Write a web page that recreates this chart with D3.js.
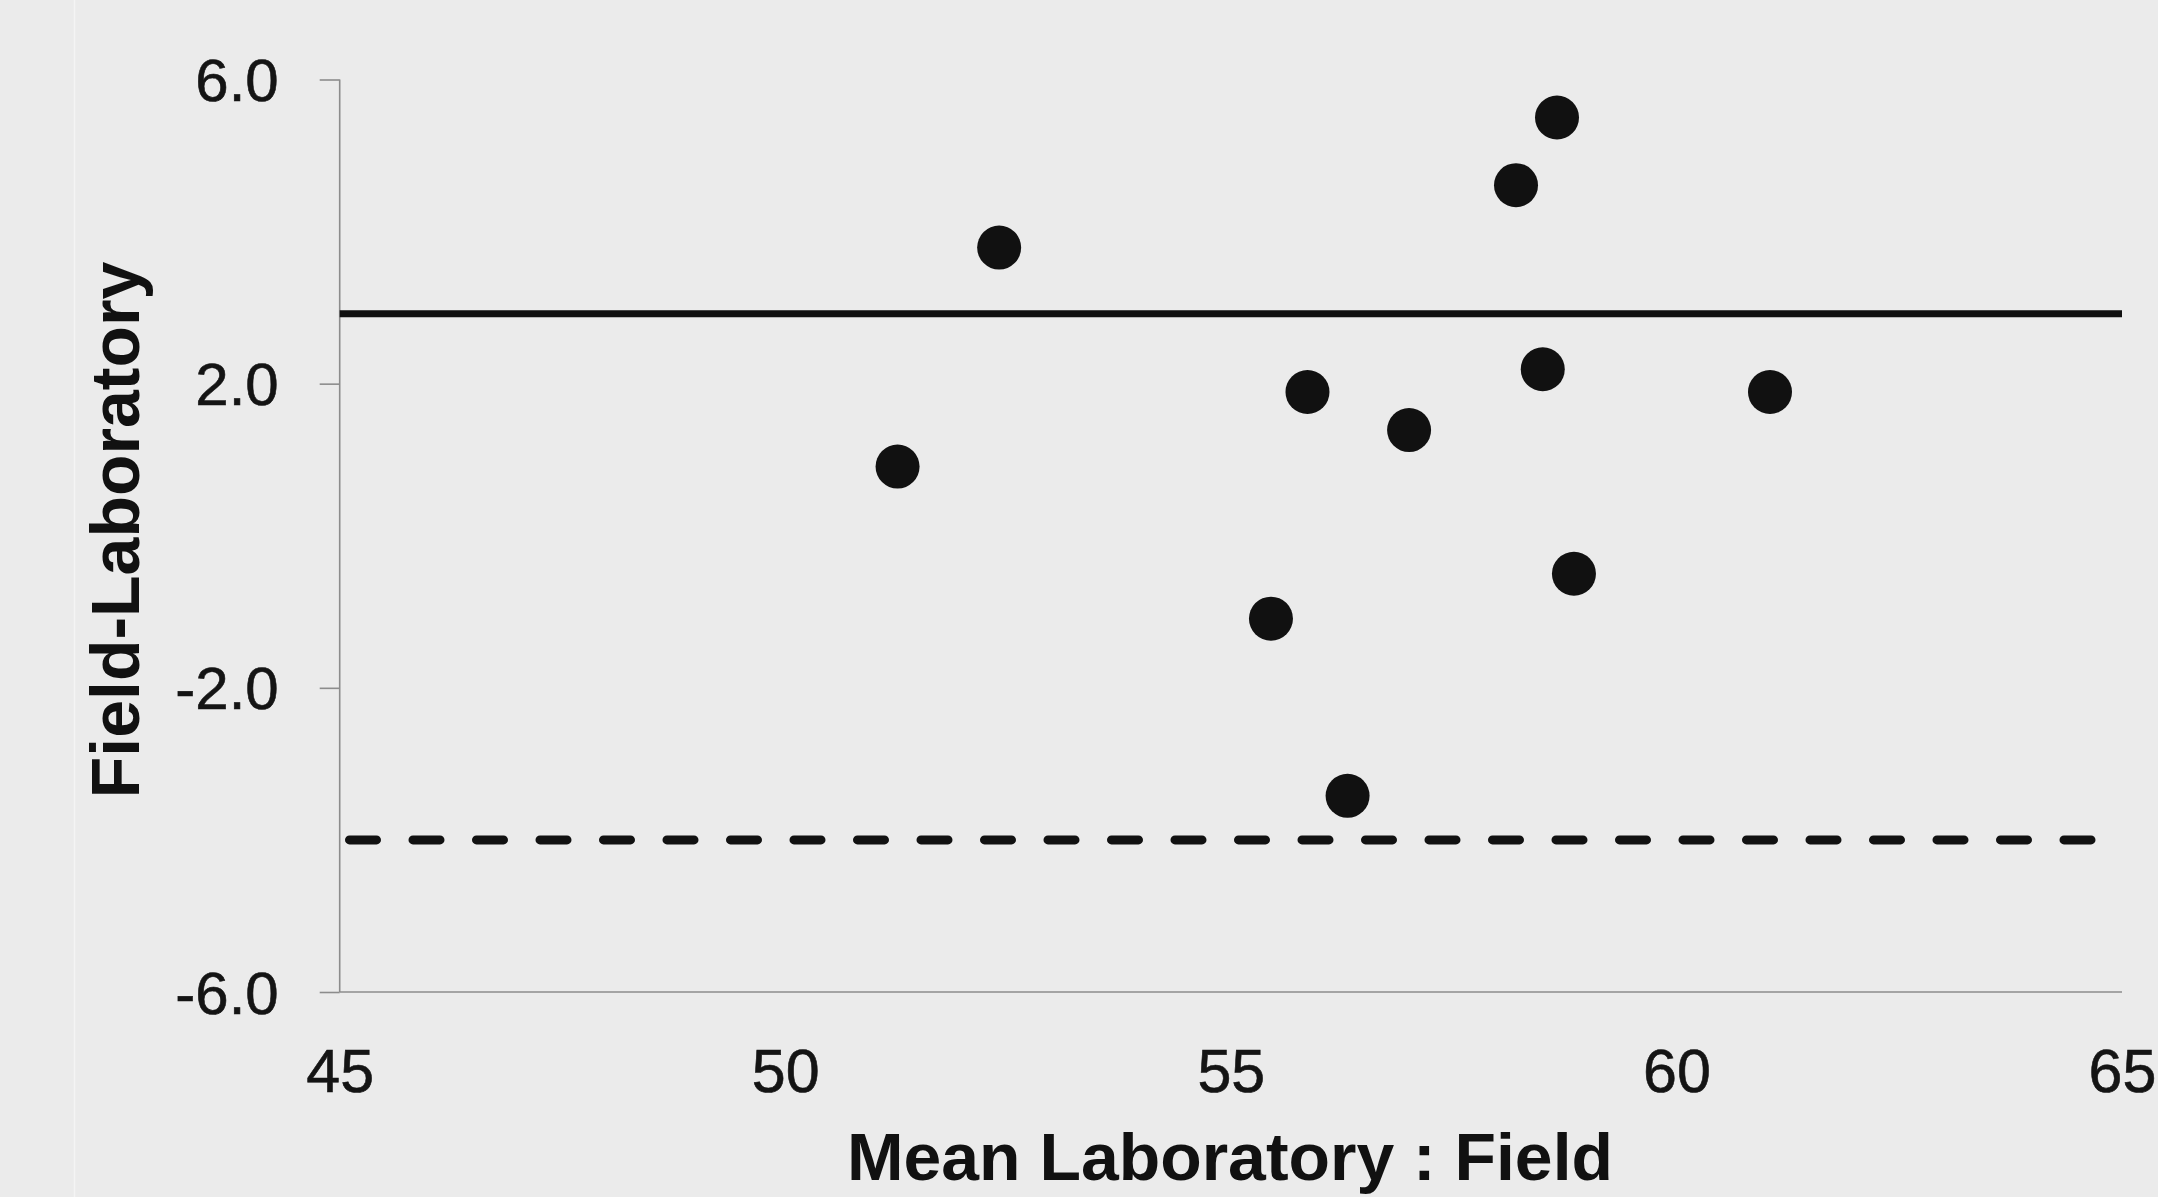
<!DOCTYPE html>
<html>
<head>
<meta charset="utf-8">
<script src="https://cdn.jsdelivr.net/npm/d3@7"></script>
<style>
  html, body { margin: 0; padding: 0; background: #ebebeb; }
  svg { display: block; }
</style>
</head>
<body>
<svg id="chart" width="2158" height="1197"></svg>
<script>
// ---- data ----
const meanValues = [51.26, 52.40, 55.86, 55.45, 56.31, 57.00, 58.20, 58.66, 58.50, 58.85, 61.05];
const diffValues = [0.91, 3.79, 1.89, -1.09, -3.42, 1.39, 4.61, 5.50, 2.19, -0.50, 1.89];
const solidLineValue = 2.92;
const dashedLineValue = -4.0;
const xTicks = [45, 50, 55, 60, 65];
const yTicks = [6, 2, -2, -6];
const xTitle = "Mean Laboratory : Field";
const yTitle = "Field-Laboratory";

(function () {
// ---- layout ----
const W = 2158, H = 1197;
const mLeft = 339.7, mRight = 2122, mTop = 79.5, mBottom = 992;
const svg = d3.select("#chart");
svg.append("rect").attr("width", W).attr("height", H).attr("fill", "#ebebeb");
svg.append("line").attr("x1", 74.5).attr("x2", 74.5).attr("y1", 0).attr("y2", H)
  .attr("stroke", "#f4f4f4").attr("stroke-width", 1.5);

const x = d3.scaleLinear().domain([45, 65]).range([mLeft, mRight]);
const y = d3.scaleLinear().domain([-6, 6]).range([mBottom, mTop]);

const font = "'Liberation Sans', Arial, sans-serif";
const axisColor = "#8c8c8c";

// y axis
const gy = svg.append("g").attr("transform", `translate(${mLeft},0)`)
  .call(d3.axisLeft(y).tickValues(yTicks).tickSize(20).tickPadding(41).tickFormat(d => d.toFixed(1)));
gy.select(".domain").attr("stroke", axisColor).attr("stroke-width", 1.6).attr("d", `M0,${mTop}V${mBottom}`);
gy.selectAll(".tick line").attr("stroke", axisColor).attr("stroke-width", 1.6);
gy.selectAll(".tick text").attr("font-family", font).attr("font-size", 60).attr("fill", "#141414")
  .attr("stroke", "#141414").attr("stroke-width", 0.6).attr("dy", "0.35em");

// x axis
const gx = svg.append("g").attr("transform", `translate(0,${mBottom})`)
  .call(d3.axisBottom(x).tickValues(xTicks).tickSize(0).tickFormat(d => d));
gx.select(".domain").attr("stroke", axisColor).attr("stroke-width", 1.6).attr("d", `M${mLeft},0H${mRight}`);
gx.selectAll(".tick text").attr("font-family", font).attr("font-size", 61).attr("fill", "#141414")
  .attr("stroke", "#141414").attr("stroke-width", 0.6).attr("y", 100).attr("dy", 0);

// reference lines
svg.append("line").attr("x1", x(45)).attr("x2", x(65)).attr("y1", y(solidLineValue)).attr("y2", y(solidLineValue))
  .attr("stroke", "#111").attr("stroke-width", 7);
svg.append("line").attr("x1", x(45)).attr("x2", x(65)).attr("y1", y(dashedLineValue)).attr("y2", y(dashedLineValue))
  .attr("stroke", "#111").attr("stroke-width", 9).attr("stroke-linecap", "round")
  .attr("stroke-dasharray", "27,36.5").attr("stroke-dashoffset", -9.8);

// points
svg.append("g").selectAll("circle").data(meanValues.map((m, i) => [m, diffValues[i]])).join("circle")
  .attr("cx", d => x(d[0])).attr("cy", d => y(d[1])).attr("r", 22).attr("fill", "#111");

// titles
svg.append("text").attr("x", 1230).attr("y", 1180).attr("text-anchor", "middle")
  .attr("font-family", font).attr("font-weight", "bold").attr("font-size", 67).attr("fill", "#111")
  .attr("textLength", 766).attr("lengthAdjust", "spacingAndGlyphs").text(xTitle);
svg.append("text").attr("transform", "translate(139,530) rotate(-90)").attr("text-anchor", "middle")
  .attr("font-family", font).attr("font-weight", "bold").attr("font-size", 68).attr("fill", "#111")
  .text(yTitle);
})();
</script>
</body>
</html>
